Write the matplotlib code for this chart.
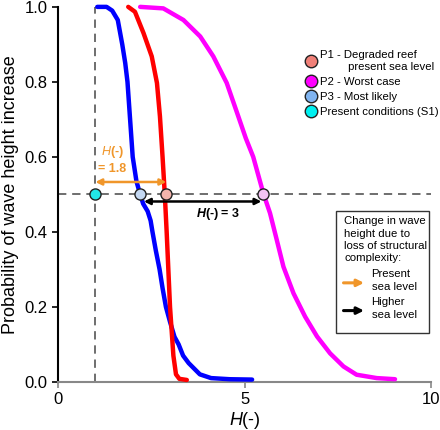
import matplotlib

matplotlib.use("Agg")
import matplotlib.pyplot as plt
from matplotlib.lines import Line2D
from matplotlib.patches import Rectangle

plt.rcParams["font.family"] = ["Liberation Sans", "DejaVu Sans"]
plt.rcParams["mathtext.fontset"] = "custom"
plt.rcParams["mathtext.rm"] = "Liberation Sans"
plt.rcParams["mathtext.it"] = "Liberation Sans:italic"
plt.rcParams["mathtext.bf"] = "Liberation Sans:bold:italic"

# exceedance curves
p1_x = [1.88, 2.06, 2.29, 2.51, 2.65, 2.73, 2.8, 2.86, 2.91, 3.0, 3.09, 3.16, 3.25, 3.45]
p1_y = [1.0, 0.987, 0.93, 0.868, 0.797, 0.708, 0.6, 0.5, 0.4, 0.2, 0.07, 0.02, 0.008, 0.005]

p2_x = [2.2, 2.82, 3.36, 3.81, 4.16, 4.52, 4.83, 5.03, 5.23, 5.5, 5.68, 5.86, 6.04,
        6.31, 6.62, 6.94, 7.29, 7.65, 8.0, 8.54, 9.03]
p2_y = [1.0, 0.996, 0.965, 0.921, 0.868, 0.797, 0.708, 0.65, 0.6, 0.503, 0.45, 0.379,
        0.307, 0.236, 0.174, 0.121, 0.076, 0.041, 0.019, 0.01, 0.007]

p3_x = [1.05, 1.3, 1.45, 1.6, 1.72, 1.8, 1.86, 1.93, 2.0, 2.1, 2.2, 2.28, 2.4, 2.48,
        2.53, 2.62, 2.72, 2.8, 2.89, 3.0, 3.12, 3.23, 3.35, 3.5, 3.8, 4.1, 4.6, 5.2]
p3_y = [1.0, 1.0, 0.99, 0.965, 0.9, 0.85, 0.8, 0.7, 0.6, 0.535, 0.5, 0.475, 0.455,
        0.43, 0.4, 0.35, 0.3, 0.25, 0.2, 0.16, 0.12, 0.1, 0.07, 0.05, 0.02, 0.01,
        0.007, 0.006]

# H(-) where each scenario crosses probability 0.5
s1_h = 1.0
p3_h = 2.2
p1_h = 2.9
p2_h = 5.5
p_mid = 0.5

orange_y = 0.533
black_y = 0.481
black_from, black_to = 2.3, 5.45

fig = plt.figure(figsize=(4.4, 4.3), dpi=100)
ax = fig.add_axes([0.132, 0.112, 0.848, 0.872])

ax.axhline(p_mid, color="#555555", ls=(0, (5, 3.5)), lw=1.2, zorder=1)
ax.plot([s1_h, s1_h], [0, 1], color="#555555", ls=(0, (5, 3.5)), lw=1.2, zorder=1)

line_kw = dict(lw=3.2, solid_capstyle="round", solid_joinstyle="round", clip_on=False, zorder=3)
ax.plot(p3_x, p3_y, color="#0000ff", **line_kw)
ax.plot(p1_x, p1_y, color="#ff0000", **line_kw)
ax.plot(p2_x, p2_y, color="#ff00ff", **line_kw)

ax.annotate("", xy=(s1_h, orange_y), xytext=(p1_h, orange_y),
            arrowprops=dict(arrowstyle="<|-|>", color="#f0962a", lw=1.8,
                            mutation_scale=9, shrinkA=0, shrinkB=0), zorder=4)
ax.annotate("", xy=(black_from, black_y), xytext=(black_to, black_y),
            arrowprops=dict(arrowstyle="<|-|>", color="black", lw=1.8,
                            mutation_scale=9, shrinkA=0, shrinkB=0), zorder=4)

ax.text(1.45, 0.593, "$H$(-)\n= 1.8", color="#f0962a", fontsize=9, fontweight="bold",
        ha="center", va="center", linespacing=1.3)
ax.text(4.3, 0.448, "$\\mathbf{H}$(-) = 3", color="black", fontsize=9, fontweight="bold",
        ha="center", va="center")

mk = dict(ms=8, mec="#222222", mew=1.0, ls="none", zorder=5, clip_on=False)
ax.plot([s1_h], [p_mid], marker="o", mfc="#22e8e8", **mk)
ax.plot([p3_h], [p_mid], marker="o", mfc="#c4d8f2", **mk)
ax.plot([p1_h], [p_mid], marker="o", mfc="#f4b4ac", **mk)
ax.plot([p2_h], [p_mid], marker="o", mfc="#f4c4f4", **mk)

ax.set_xlim(0, 10)
ax.set_ylim(0, 1)
ax.set_xticks([0, 5, 10])
ax.set_yticks([0, 0.2, 0.4, 0.6, 0.8, 1.0])
ax.set_yticklabels(["0.0", "0.2", "0.4", "0.6", "0.8", "1.0"])
ax.tick_params(axis="both", labelsize=12, length=4, width=1.2)
ax.tick_params(axis="x", color="#888888")
for s in ["top", "right"]:
    ax.spines[s].set_visible(False)
ax.spines["left"].set_linewidth(1.5)
ax.spines["bottom"].set_linewidth(1.5)
ax.spines["bottom"].set_color("#888888")

ax.set_xlabel("$H$(-)", fontsize=13, labelpad=2)
ax.set_ylabel("Probability of wave height increase", fontsize=13, labelpad=4)

handles = [
    Line2D([], [], marker="o", ls="none", ms=9, mfc="#f08078", mec="#222222"),
    Line2D([], [], marker="o", ls="none", ms=9, mfc="#ff00ff", mec="#222222"),
    Line2D([], [], marker="o", ls="none", ms=9, mfc="#80b4f0", mec="#222222"),
    Line2D([], [], marker="o", ls="none", ms=9, mfc="#00f0f0", mec="#222222"),
]
labels = ["P1 - Degraded reef\n         present sea level", "P2 - Worst case",
          "P3 - Most likely", "Present conditions (S1)"]
ax.legend(handles, labels, loc="upper left", bbox_to_anchor=(0.64, 0.9), frameon=False,
          fontsize=8.2, handletextpad=0.1, labelspacing=0.45, borderpad=0, handlelength=1.4)

# second key: arrows
ax.add_patch(Rectangle((0.745, 0.131), 0.25, 0.325, transform=ax.transAxes,
                       fill=False, ec="#333333", lw=1.0, zorder=6, clip_on=False))
ax.text(0.767, 0.442, "Change in wave\nheight due to\nloss of structural\ncomplexity:",
        transform=ax.transAxes, fontsize=8.2, va="top", ha="left", linespacing=1.3)
ax.annotate("", xy=(0.82, 0.264), xytext=(0.765, 0.264), xycoords="axes fraction",
            arrowprops=dict(arrowstyle="-|>", color="#f0962a", lw=2.2, mutation_scale=10,
                            shrinkA=0, shrinkB=0))
ax.annotate("", xy=(0.82, 0.19), xytext=(0.765, 0.19), xycoords="axes fraction",
            arrowprops=dict(arrowstyle="-|>", color="black", lw=2.2, mutation_scale=10,
                            shrinkA=0, shrinkB=0))
ax.text(0.84, 0.27, "Present\nsea level", transform=ax.transAxes, fontsize=8.2,
        va="center", ha="left", linespacing=1.3)
ax.text(0.84, 0.196, "Higher\nsea level", transform=ax.transAxes, fontsize=8.2,
        va="center", ha="left", linespacing=1.3)

fig.savefig("out.png", dpi=100)
